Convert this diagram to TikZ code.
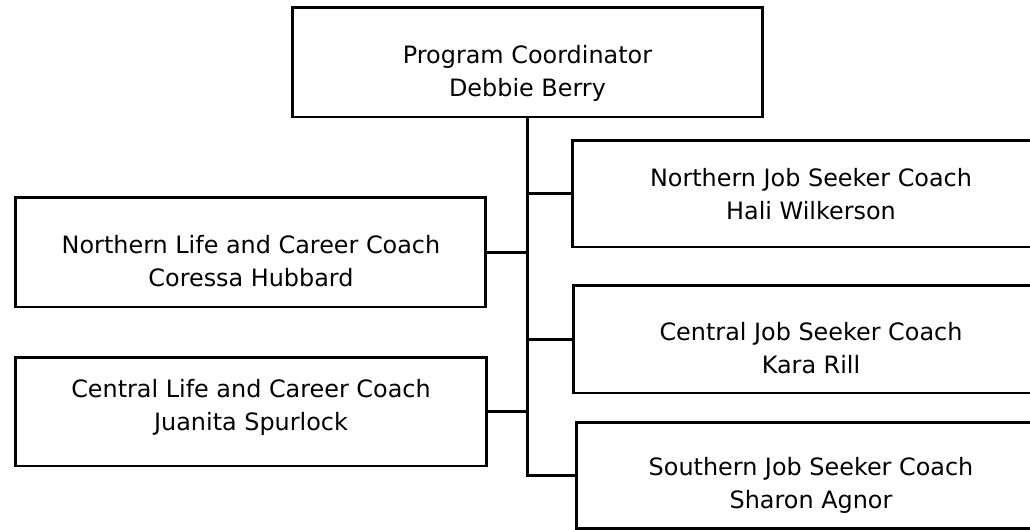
\documentclass[tikz,border=0pt]{standalone}
\usepackage{fontspec}
\setmainfont{DejaVu Sans}
\usepackage{tikz}
\tikzset{
  posbox/.style={draw,line width=1.7pt,rectangle,inner sep=0pt},
  boxtext/.style={align=center,inner sep=0pt,font=\fontsize{13.6}{18.8}\selectfont},
  orgline/.style={line width=1.7pt}
}
\begin{document}
\begin{tikzpicture}[x=0.02cm,y=-0.02cm]
			\clip (0,0) rectangle (1030,529);
			\fill[white] (0,0) rectangle (1030,529);
			% boxes
			\node[posbox,minimum width=9.42cm,minimum height=2.2cm] (coord) at (527.5,62) {};
			\node[posbox,minimum width=9.56cm,minimum height=2.14cm] (njob) at (811,193.5) {};
			\node[posbox,minimum width=9.52cm,minimum height=2.16cm] (cjob) at (811,339) {};
			\node[posbox,minimum width=9.4cm,minimum height=2.12cm] (sjob) at (811,475) {};
			\node[posbox,minimum width=9.42cm,minimum height=2.2cm] (nlife) at (250.5,252) {};
			\node[posbox,minimum width=9.44cm,minimum height=2.18cm] (clife) at (251,411.5) {};
			% texts
			\node[boxtext] (coordtxt) at (527.5,73) {Program Coordinator\\Debbie Berry};
			\node[boxtext] (njobtxt) at (811,194) {Northern Job Seeker Coach\\Hali Wilkerson};
			\node[boxtext] (cjobtxt) at (811,348) {Central Job Seeker Coach\\Kara Rill};
			\node[boxtext] (sjobtxt) at (811,485) {Southern Job Seeker Coach\\Sharon Agnor};
			\node[boxtext] (nlifetxt) at (251,261) {Northern Life and Career Coach\\Coressa Hubbard};
			\node[boxtext] (clifetxt) at (251,407) {Central Life and Career Coach\\Juanita Spurlock};
			% connectors
			\draw[orgline] (coord.south) |- (sjob.west);
			\draw[orgline] (njob.west) -- (njob.west -| coord.south);
			\draw[orgline] (cjob.west) -- (cjob.west -| coord.south);
			\draw[orgline] (nlife.east) -- (nlife.east -| coord.south);
			\draw[orgline] (clife.east) -- (clife.east -| coord.south);
		\end{tikzpicture}
\end{document}
